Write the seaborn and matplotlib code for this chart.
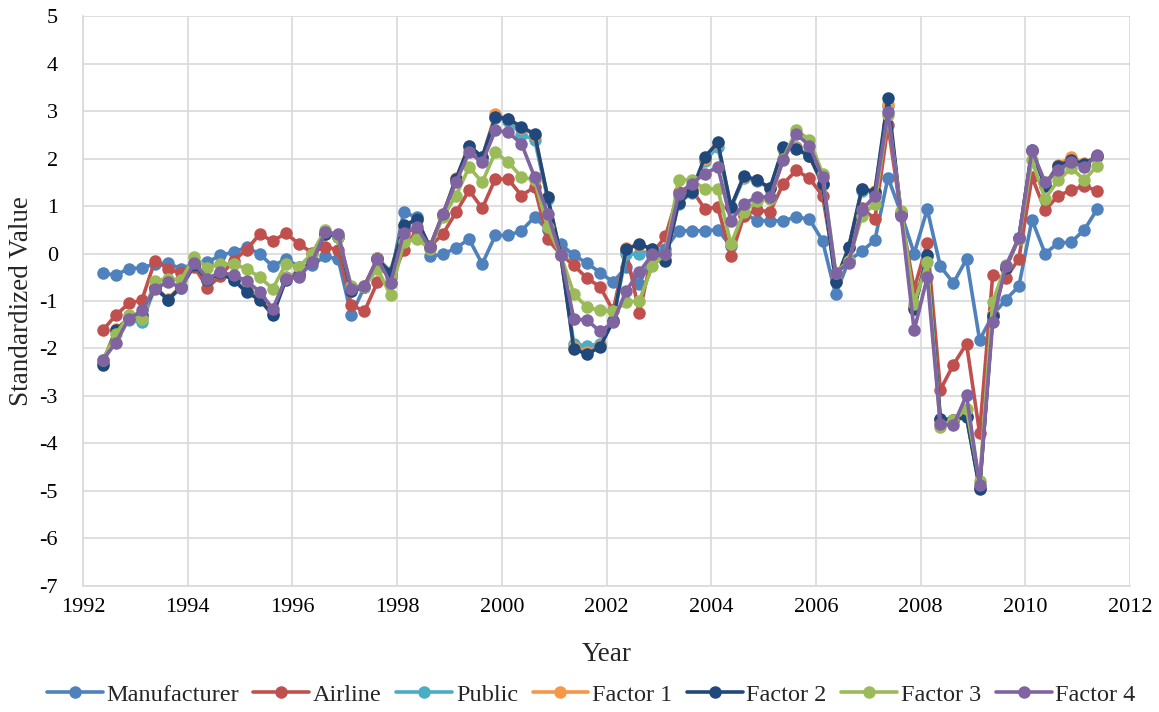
import numpy as np
import pandas as pd
import matplotlib
matplotlib.use("Agg")
import matplotlib.pyplot as plt
import seaborn as sns

# ---- data ----
start_year = 1992.375
n_points = 77
years = [start_year + 0.25 * i for i in range(n_points)]

manufacturer = [-0.42, -0.45, -0.32, -0.30, -0.22, -0.20, -0.33, -0.20, -0.18, -0.04,
                0.03, 0.13, -0.01, -0.27, -0.11, -0.28, -0.25, -0.06, -0.12, -1.30,
                -0.70, -0.10, -0.50, 0.87, 0.76, -0.05, -0.02, 0.12, 0.30, -0.22,
                0.38, 0.38, 0.48, 0.77, 0.50, 0.20, -0.04, -0.20, -0.40, -0.60,
                -0.29, -0.64, -0.05, 0.10, 0.48, 0.48, 0.48, 0.50, 0.15, 0.85,
                0.69, 0.69, 0.69, 0.77, 0.72, 0.27, -0.86, -0.15, 0.05, 0.28,
                1.60, 0.85, 0.00, 0.93, -0.27, -0.62, -0.12, -1.82, -1.30, -0.97,
                -0.69, 0.71, 0.00, 0.22, 0.24, 0.50, 0.94]

airline = [-1.62, -1.30, -1.05, -0.98, -0.15, -0.32, -0.42, -0.28, -0.72, -0.47,
           -0.15, 0.08, 0.41, 0.26, 0.43, 0.20, 0.02, 0.14, 0.08, -1.08,
           -1.22, -0.60, -0.62, 0.08, 0.50, 0.15, 0.41, 0.87, 1.33, 0.95,
           1.57, 1.56, 1.22, 1.40, 0.30, -0.02, -0.25, -0.52, -0.70, -1.20,
           0.05, -1.25, 0.00, 0.36, 1.29, 1.35, 0.94, 0.98, -0.06, 0.80,
           0.91, 0.88, 1.47, 1.75, 1.58, 1.22, -0.40, -0.15, 0.95, 0.73,
           2.70, 0.82, -0.75, 0.22, -2.87, -2.34, -1.90, -3.78, -0.46, -0.52,
           -0.11, 1.61, 0.91, 1.22, 1.33, 1.43, 1.31]

factor2 = [-2.35, -1.62, -1.35, -1.30, -0.72, -0.97, -0.70, -0.25, -0.55, -0.42,
           -0.55, -0.82, -0.97, -1.30, -0.55, -0.45, -0.15, 0.42, 0.35, -0.80,
           -0.70, -0.12, -0.40, 0.59, 0.72, 0.13, 0.82, 1.57, 2.27, 2.03,
           2.87, 2.84, 2.66, 2.52, 1.19, -0.03, -2.01, -2.12, -1.97, -1.42,
           0.10, 0.19, 0.10, -0.15, 1.07, 1.30, 2.03, 2.34, 0.98, 1.64,
           1.54, 1.38, 2.24, 2.20, 2.05, 1.47, -0.60, 0.13, 1.36, 1.30,
           3.27, 0.83, -1.16, -0.04, -3.48, -3.50, -3.45, -4.95, -1.31, -0.30,
           0.33, 2.17, 1.42, 1.85, 1.96, 1.89, 2.05]

factor1 = [-2.30, -1.60, -1.38, -1.35, -0.70, -0.95, -0.68, -0.25, -0.55, -0.42,
           -0.53, -0.80, -0.95, -1.25, -0.52, -0.43, -0.15, 0.42, 0.36, -0.78,
           -0.68, -0.10, -0.38, 0.58, 0.72, 0.14, 0.83, 1.58, 2.26, 2.03,
           2.93, 2.83, 2.64, 2.50, 1.18, -0.03, -1.97, -2.08, -1.95, -1.40,
           0.12, 0.18, 0.10, -0.13, 1.08, 1.30, 2.00, 2.32, 0.98, 1.62,
           1.54, 1.38, 2.22, 2.22, 2.05, 1.47, -0.58, 0.12, 1.35, 1.32,
           3.15, 0.85, -1.12, -0.05, -3.50, -3.50, -3.43, -4.93, -1.28, -0.30,
           0.33, 2.15, 1.45, 1.87, 2.04, 1.90, 2.05]

public = [-2.30, -1.62, -1.40, -1.45, -0.72, -0.98, -0.72, -0.25, -0.55, -0.42,
          -0.55, -0.80, -0.95, -1.25, -0.50, -0.40, -0.12, 0.42, 0.35, -0.80,
          -0.70, -0.10, -0.38, 0.58, 0.70, 0.13, 0.82, 1.55, 2.25, 2.00,
          2.85, 2.80, 2.50, 2.40, 1.15, -0.03, -1.90, -1.95, -1.90, -1.42,
          0.00, -0.02, 0.08, -0.12, 1.05, 1.28, 1.95, 2.25, 0.95, 1.60,
          1.52, 1.38, 2.20, 2.25, 2.05, 1.47, -0.58, 0.12, 1.32, 1.30,
          3.10, 0.83, -1.12, -0.05, -3.48, -3.50, -3.43, -4.93, -1.28, -0.30,
          0.33, 2.15, 1.45, 1.85, 1.98, 1.88, 2.05]

factor3 = [-2.25, -1.70, -1.30, -1.38, -0.57, -0.53, -0.55, -0.08, -0.30, -0.22,
           -0.22, -0.32, -0.50, -0.74, -0.22, -0.28, 0.00, 0.50, 0.35, -0.68,
           -0.70, -0.32, -0.88, 0.24, 0.31, 0.10, 0.77, 1.22, 1.82, 1.50,
           2.13, 1.92, 1.61, 1.55, 0.55, -0.03, -0.85, -1.13, -1.20, -1.22,
           -1.03, -0.99, -0.27, 0.00, 1.55, 1.55, 1.36, 1.36, 0.20, 0.88,
           1.10, 1.15, 2.00, 2.59, 2.40, 1.68, -0.40, -0.15, 0.78, 1.05,
           2.92, 0.90, -1.06, -0.18, -3.66, -3.50, -3.27, -4.80, -1.02, -0.25,
           0.30, 1.96, 1.15, 1.54, 1.80, 1.55, 1.85]

factor4 = [-2.25, -1.88, -1.38, -1.20, -0.74, -0.60, -0.72, -0.20, -0.53, -0.39,
           -0.46, -0.57, -0.81, -1.16, -0.53, -0.50, -0.18, 0.45, 0.41, -0.74,
           -0.69, -0.11, -0.62, 0.43, 0.55, 0.13, 0.84, 1.50, 2.13, 1.92,
           2.59, 2.55, 2.31, 1.61, 0.84, -0.04, -1.38, -1.40, -1.64, -1.45,
           -0.78, -0.39, -0.02, -0.02, 1.26, 1.47, 1.68, 1.82, 0.69, 1.05,
           1.19, 1.19, 1.96, 2.52, 2.27, 1.61, -0.41, -0.20, 0.91, 1.22,
           2.98, 0.80, -1.62, -0.50, -3.59, -3.62, -2.98, -4.88, -1.45, -0.27,
           0.33, 2.17, 1.50, 1.76, 1.93, 1.82, 2.08]

series_names = ["Manufacturer", "Airline", "Public", "Factor 1", "Factor 2", "Factor 3", "Factor 4"]
series_values = [manufacturer, airline, public, factor1, factor2, factor3, factor4]
colors = ["#4f81bd", "#c0504d", "#4bacc6", "#f79646", "#1f497d", "#9bbb59", "#8064a2"]

x_ticks = list(range(1992, 2013, 2))
y_ticks = list(range(-7, 6, 1))

rows = []
for name, vals in zip(series_names, series_values):
    for yr, v in zip(years, vals):
        rows.append({"Year": yr, "Value": v, "Series": name})
df = pd.DataFrame(rows)

# ---- plot ----
sns.set_theme(style="white")
plt.rcParams["font.family"] = ["Liberation Serif", "DejaVu Serif"]
plt.rcParams["axes.unicode_minus"] = False

fig = plt.figure(figsize=(11.59, 7.12), dpi=100)
ax = fig.add_axes([0.0716, 0.177, 0.9035, 0.8005])

sns.lineplot(data=df, x="Year", y="Value", hue="Series", hue_order=series_names,
             palette=colors, marker="o", markersize=9, markeredgewidth=0,
             linewidth=2.6, ax=ax, legend=True, sort=False)

ax.set_xlim(1992, 2012)
ax.set_ylim(-7, 5)
ax.set_xticks(x_ticks)
ax.set_yticks(y_ticks)
ax.grid(True, color="#d9d9d9", linewidth=1.2)
ax.set_axisbelow(True)
for s in ["top", "right"]:
    ax.spines[s].set_visible(False)
for s in ["left", "bottom"]:
    ax.spines[s].set_color("#d9d9d9")
    ax.spines[s].set_linewidth(1.2)
ax.tick_params(axis="both", length=0, labelsize=16, colors="black")
ax.tick_params(axis="y", pad=18)
ax.tick_params(axis="x", pad=9)
ax.set_xlabel("Year", fontsize=19.5, labelpad=18)
ax.set_ylabel("Standardized Value", fontsize=19.5, labelpad=4)

handles, labels = ax.get_legend_handles_labels()
ax.get_legend().remove()
fig.legend(handles, labels, loc="center", bbox_to_anchor=(0.51, 0.024), ncol=7,
           frameon=False, fontsize=17.5, handlelength=2.3, handletextpad=0.15,
           columnspacing=0.6, borderaxespad=0)

fig.savefig("out.png", dpi=100)
